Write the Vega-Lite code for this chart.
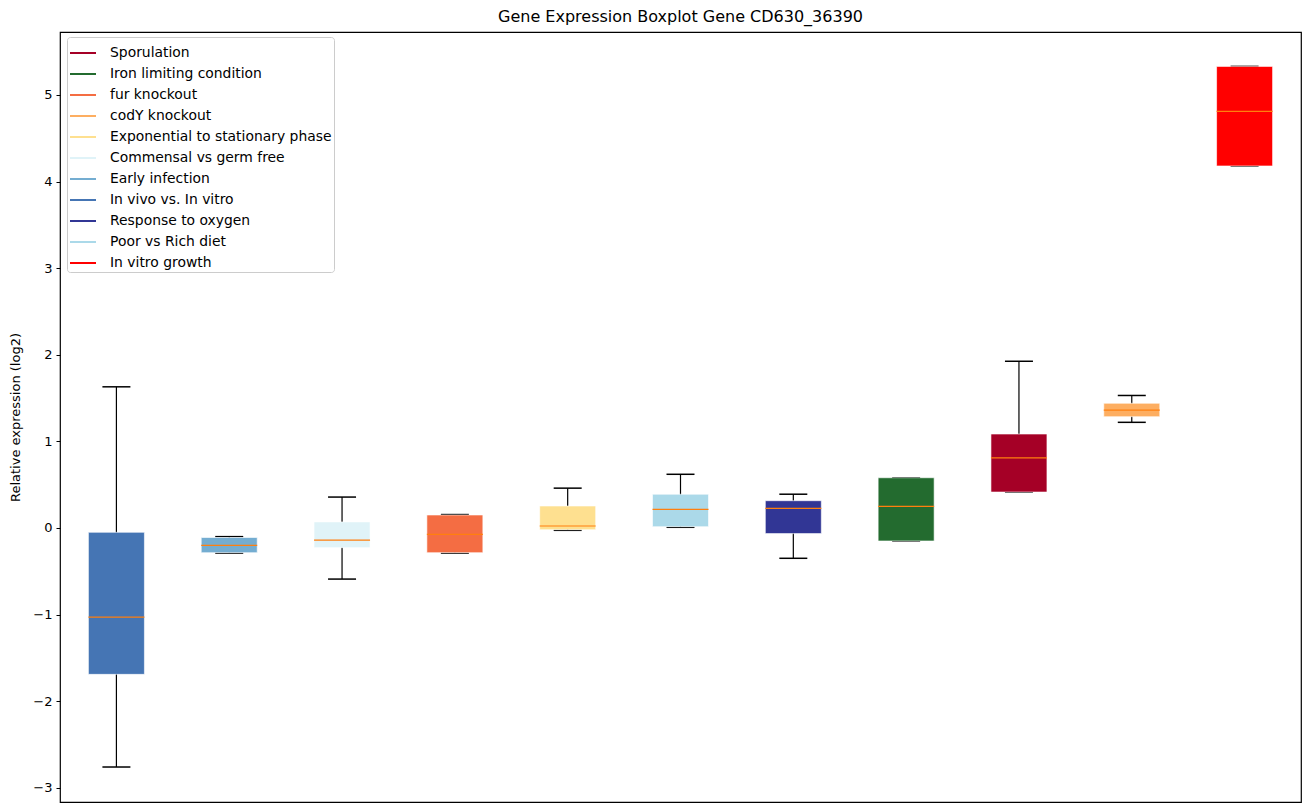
{
  "$schema": "https://vega.github.io/schema/vega-lite/v6.json",
  "width": 1241,
  "height": 770,
  "autosize": "none",
  "padding": {"left": 60, "top": 32, "right": 8, "bottom": 10},
  "background": "white",
  "title": {"text": "Gene Expression Boxplot Gene CD630_36390", "fontSize": 16, "fontWeight": "normal", "font": "DejaVu Sans", "color": "black", "anchor": "middle", "offset": 7},
  "data": {"values": [
    {"group": "In vivo vs. In vitro", "pos": 1, "lo": -2.76, "q1": -1.69, "med": -1.03, "q3": -0.05, "hi": 1.63},
    {"group": "Early infection", "pos": 2, "lo": -0.29, "q1": -0.285, "med": -0.2, "q3": -0.11, "hi": -0.10},
    {"group": "Commensal vs germ free", "pos": 3, "lo": -0.59, "q1": -0.227, "med": -0.14, "q3": 0.07, "hi": 0.357},
    {"group": "fur knockout", "pos": 4, "lo": -0.29, "q1": -0.285, "med": -0.073, "q3": 0.15, "hi": 0.155},
    {"group": "Exponential to stationary phase", "pos": 5, "lo": -0.027, "q1": -0.02, "med": 0.023, "q3": 0.254, "hi": 0.46},
    {"group": "Poor vs Rich diet", "pos": 6, "lo": 0.008, "q1": 0.015, "med": 0.215, "q3": 0.39, "hi": 0.62},
    {"group": "Response to oxygen", "pos": 7, "lo": -0.35, "q1": -0.065, "med": 0.227, "q3": 0.315, "hi": 0.39},
    {"group": "Iron limiting condition", "pos": 8, "lo": -0.15, "q1": -0.15, "med": 0.25, "q3": 0.58, "hi": 0.58},
    {"group": "Sporulation", "pos": 9, "lo": 0.415, "q1": 0.415, "med": 0.81, "q3": 1.085, "hi": 1.925},
    {"group": "codY knockout", "pos": 10, "lo": 1.22, "q1": 1.285, "med": 1.36, "q3": 1.44, "hi": 1.53},
    {"group": "In vitro growth", "pos": 11, "lo": 4.18, "q1": 4.18, "med": 4.81, "q3": 5.33, "hi": 5.33}
  ]},
  "encoding": {
    "x": {"field": "pos", "type": "quantitative", "scale": {"domain": [0.5, 11.5], "nice": false, "zero": false, "padding": 0}, "axis": null}
  },
  "layer": [
    {
      "mark": {"type": "rule", "color": "black", "strokeWidth": 1.2},
      "encoding": {
        "y": {"field": "lo", "type": "quantitative", "scale": {"domain": [-3.164, 5.727], "nice": false, "zero": false},
              "axis": {"title": "Relative expression (log2)", "values": [-3, -2, -1, 0, 1, 2, 3, 4, 5], "format": "d", "grid": false, "domain": false,
                       "tickColor": "black", "tickSize": 4, "labelFont": "DejaVu Sans", "labelFontSize": 13, "labelColor": "black", "labelPadding": 4,
                       "titleFont": "DejaVu Sans", "titleFontSize": 13, "titleFontWeight": "normal", "titleColor": "black", "titlePadding": 10}},
        "y2": {"field": "hi"}
      }
    },
    {
      "mark": {"type": "tick", "orient": "horizontal", "color": "black", "size": 28, "thickness": 1.5, "opacity": 1},
      "encoding": {"y": {"field": "lo", "type": "quantitative"}}
    },
    {
      "mark": {"type": "tick", "orient": "horizontal", "color": "black", "size": 28, "thickness": 1.5, "opacity": 1},
      "encoding": {"y": {"field": "hi", "type": "quantitative"}}
    },
    {
      "mark": {"type": "bar", "size": 56, "stroke": "white", "strokeOpacity": 0.6, "strokeWidth": 1, "opacity": 1},
      "encoding": {
        "y": {"field": "q1", "type": "quantitative"},
        "y2": {"field": "q3"},
        "fill": {
          "field": "group", "type": "nominal",
          "scale": {
            "domain": ["Sporulation", "Iron limiting condition", "fur knockout", "codY knockout", "Exponential to stationary phase", "Commensal vs germ free", "Early infection", "In vivo vs. In vitro", "Response to oxygen", "Poor vs Rich diet", "In vitro growth"],
            "range": ["#a50026", "#236b2f", "#f46d43", "#fdae61", "#fee090", "#e0f3f8", "#74add1", "#4575b4", "#313695", "#abd9e9", "#ff0000"]
          },
          "legend": {
            "title": null, "orient": "none", "legendX": 7, "legendY": 5,
            "symbolType": "stroke", "symbolSize": 676, "symbolStrokeWidth": 2,
            "labelFont": "DejaVu Sans", "labelFontSize": 13.9, "labelColor": "black", "labelOffset": 13, "labelLimit": 0,
            "rowPadding": -4, "padding": 2, "strokeColor": "#cccccc", "fillColor": "white", "cornerRadius": 3
          }
        }
      }
    },
    {
      "mark": {"type": "rule", "strokeWidth": 2, "opacity": 1},
      "encoding": {
        "y": {"field": "med", "type": "quantitative"},
        "y2": {"field": "med"},
        "stroke": {
          "field": "group", "type": "nominal",
          "scale": {
            "domain": ["Sporulation", "Iron limiting condition", "fur knockout", "codY knockout", "Exponential to stationary phase", "Commensal vs germ free", "Early infection", "In vivo vs. In vitro", "Response to oxygen", "Poor vs Rich diet", "In vitro growth"],
            "range": ["#a50026", "#236b2f", "#f46d43", "#fdae61", "#fee090", "#e0f3f8", "#74add1", "#4575b4", "#313695", "#abd9e9", "#ff0000"]
          },
          "legend": {
            "title": null, "orient": "none", "legendX": 7, "legendY": 5,
            "symbolType": "stroke", "symbolSize": 676, "symbolStrokeWidth": 2,
            "labelFont": "DejaVu Sans", "labelFontSize": 13.9, "labelColor": "black", "labelOffset": 13, "labelLimit": 0,
            "rowPadding": -4, "padding": 2, "strokeColor": "#cccccc", "fillColor": "white", "cornerRadius": 3
          }
        }
      }
    },
    {
      "mark": {"type": "tick", "orient": "horizontal", "color": "#ff7f0e", "size": 56, "thickness": 1.2, "opacity": 1},
      "encoding": {"y": {"field": "med", "type": "quantitative"}}
    }
  ],
  "config": {
    "view": {"stroke": "black", "strokeWidth": 1.2},
    "font": "DejaVu Sans"
  }
}
